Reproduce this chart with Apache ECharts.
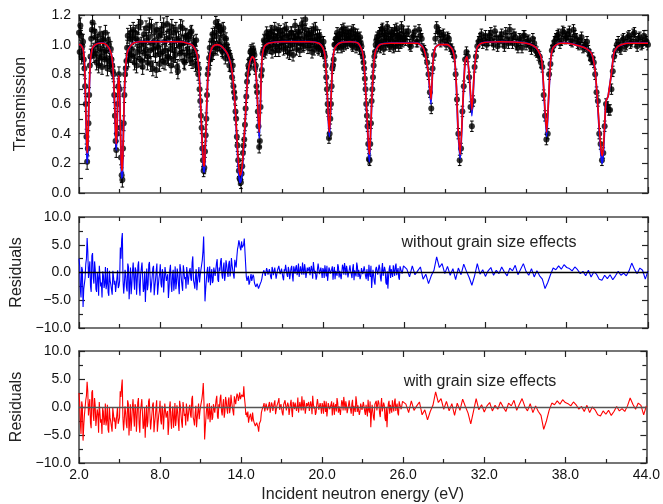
<!DOCTYPE html>
<html><head><meta charset="utf-8">
<script src="https://cdn.jsdelivr.net/npm/echarts/dist/echarts.min.js"></script>
<style>html,body{margin:0;padding:0;background:#fff}#c{width:663px;height:504px}</style>
</head><body><div id="c"></div>
<script>
// ---- Data ----
const xTicks = [2, 44, 6];          // min, max, interval of the energy axis
const energy = [
2.0,2.1,2.2,2.3,2.4,2.5,2.6,2.7,2.8,2.9,
3.0,3.1,3.2,3.3,3.4,3.5,3.6,3.7,3.8,3.9,
4.0,4.1,4.2,4.3,4.4,4.5,4.6,4.7,4.8,4.9,
5.0,5.1,5.2,5.3,5.4,5.5,5.6,5.7,5.8,5.9,
6.0,6.1,6.2,6.3,6.4,6.5,6.6,6.7,6.8,6.9,
7.0,7.1,7.2,7.3,7.4,7.5,7.6,7.7,7.8,7.9,
8.0,8.1,8.2,8.3,8.4,8.5,8.6,8.7,8.8,8.9,
9.0,9.1,9.2,9.3,9.4,9.5,9.6,9.7,9.8,9.9,
10.0,10.1,10.2,10.3,10.4,10.5,10.6,10.7,10.8,10.9,
11.0,11.1,11.2,11.3,11.4,11.5,11.6,11.7,11.8,11.9,
12.0,12.1,12.2,12.3,12.4,12.5,12.6,12.7,12.8,12.9,
13.0,13.1,13.2,13.3,13.4,13.5,13.6,13.7,13.8,13.9,
14.0,14.1,14.2,14.3,14.4,14.5,14.6,14.7,14.8,14.9,
15.0,15.1,15.2,15.3,15.4,15.5,15.6,15.7,15.8,15.9,
16.0,16.1,16.2,16.3,16.4,16.5,16.6,16.7,16.8,16.9,
17.0,17.1,17.2,17.3,17.4,17.5,17.6,17.7,17.8,17.9,
18.0,18.1,18.2,18.3,18.4,18.5,18.6,18.7,18.8,18.9,
19.0,19.1,19.2,19.3,19.4,19.5,19.6,19.7,19.8,19.9,
20.0,20.1,20.2,20.3,20.4,20.5,20.6,20.7,20.8,20.9,
21.0,21.1,21.2,21.3,21.4,21.5,21.6,21.7,21.8,21.9,
22.0,22.1,22.2,22.3,22.4,22.5,22.6,22.7,22.8,22.9,
23.0,23.1,23.2,23.3,23.4,23.5,23.6,23.7,23.8,23.9,
24.0,24.1,24.2,24.3,24.4,24.5,24.6,24.7,24.8,24.9,
25.0,25.1,25.2,25.3,25.4,25.5,25.6,25.7,25.8,25.9,
26.0,
26.2,26.4,26.6,26.8,27.0,27.2,27.4,27.6,27.8,
28.0,28.2,28.4,28.6,28.8,29.0,29.2,29.4,29.6,29.8,
30.0,30.2,30.4,30.6,30.8,31.0,31.2,31.4,31.6,31.8,
32.0,32.2,32.4,32.6,32.8,33.0,33.2,33.4,33.6,33.8,
34.0,34.2,34.4,34.6,34.8,35.0,35.2,35.4,35.6,35.8,
36.0,36.2,36.4,36.6,36.8,37.0,37.2,37.4,37.6,37.8,
38.0,38.2,38.4,38.6,38.8,39.0,39.2,39.4,39.6,39.8,
40.0,40.2,40.4,40.6,40.8,41.0,41.2,41.4,41.6,41.8,
42.0,42.2,42.4,42.6,42.8,43.0,43.2,43.4,43.6,43.8,
44.0
];
const transmission = [
1.08,1.13,0.92,1.02,0.84,0.60,0.21,0.47,0.86,1.04,
1.15,0.93,1.05,0.88,1.02,0.91,0.97,0.85,1.03,0.90,
0.96,0.84,1.00,0.87,0.90,0.82,0.66,0.35,0.40,0.72,
0.70,0.24,0.09,0.47,0.80,0.89,1.06,0.94,1.08,0.97,
1.10,0.88,1.04,0.95,1.12,0.90,1.00,0.85,1.07,0.96,
1.03,0.92,1.13,0.87,1.01,0.97,1.09,0.83,0.99,1.06,
0.94,1.10,0.89,1.02,0.96,1.14,0.91,1.05,0.86,1.00,
1.08,0.93,1.03,0.82,0.99,1.12,0.95,1.01,0.88,1.06,
0.97,1.04,0.90,1.09,0.93,1.00,0.86,0.92,0.80,0.70,
0.52,0.30,0.15,0.28,0.50,0.80,0.91,0.90,1.03,0.94,
1.08,1.15,0.97,1.12,1.02,1.10,0.95,1.05,0.91,1.00,
0.96,0.86,0.90,0.78,0.72,0.64,0.50,0.32,0.15,0.09,
0.13,0.27,0.36,0.57,0.75,0.86,0.90,0.96,0.93,0.95,
0.84,0.72,0.55,0.31,0.58,0.83,0.96,1.02,0.97,1.06,
1.05,0.98,1.09,1.00,1.06,0.96,1.03,1.10,0.99,1.04,
1.07,0.97,1.02,1.11,0.95,1.05,1.00,1.08,0.93,1.03,
1.06,1.01,1.09,0.96,1.04,1.12,1.00,1.17,1.05,0.98,
1.07,1.02,0.95,1.10,1.03,0.99,1.06,0.97,1.04,0.96,
0.97,0.94,0.86,0.70,0.55,0.40,0.60,0.84,0.90,1.00,
1.04,0.98,1.07,1.02,1.10,0.99,1.05,1.08,1.01,1.06,
1.03,1.09,0.99,1.05,1.07,1.00,1.04,0.97,1.01,0.94,
0.88,0.77,0.60,0.45,0.23,0.33,0.62,0.78,0.92,1.00,
1.05,0.99,1.08,1.02,1.11,0.97,1.06,1.03,1.09,1.00,
1.04,1.07,0.98,1.10,1.03,1.06,0.99,1.05,1.12,1.02,
1.04,
1.07,1.00,1.05,1.09,1.02,1.06,0.97,0.93,0.80,
0.57,0.93,1.12,1.08,1.06,1.03,1.05,0.99,0.95,0.80,
0.40,0.30,0.72,0.95,0.78,0.45,0.85,0.99,1.04,1.01,
1.06,1.03,1.08,1.00,1.05,1.02,1.07,0.99,1.04,1.10,
1.01,1.05,0.98,1.03,1.06,1.00,1.03,0.97,1.01,0.95,
0.92,0.85,0.52,0.40,0.87,0.99,1.04,1.07,1.03,1.08,
1.05,1.09,1.02,1.06,1.01,1.03,0.98,1.00,0.96,0.90,
0.88,0.68,0.40,0.22,0.45,0.58,0.56,0.82,0.96,1.02,
0.97,1.04,1.00,1.06,1.02,1.08,0.99,1.05,1.01,1.03,
1.00
];
// interleaved measurements between the grid points above (2.05 ... 25.95)
const energyMid = [
2.05,2.15,2.25,2.35,2.45,2.55,2.65,2.75,2.85,2.95,
3.05,3.15,3.25,3.35,3.45,3.55,3.65,3.75,3.85,3.95,
4.05,4.15,4.25,4.35,4.45,4.55,4.65,4.75,4.85,4.95,
5.05,5.15,5.25,5.35,5.45,5.55,5.65,5.75,5.85,5.95,
6.05,6.15,6.25,6.35,6.45,6.55,6.65,6.75,6.85,6.95,
7.05,7.15,7.25,7.35,7.45,7.55,7.65,7.75,7.85,7.95,
8.05,8.15,8.25,8.35,8.45,8.55,8.65,8.75,8.85,8.95,
9.05,9.15,9.25,9.35,9.45,9.55,9.65,9.75,9.85,9.95,
10.05,10.15,10.25,10.35,10.45,10.55,10.65,10.75,10.85,10.95,
11.05,11.15,11.25,11.35,11.45,11.55,11.65,11.75,11.85,11.95,
12.05,12.15,12.25,12.35,12.45,12.55,12.65,12.75,12.85,12.95,
13.05,13.15,13.25,13.35,13.45,13.55,13.65,13.75,13.85,13.95,
14.05,14.15,14.25,14.35,14.45,14.55,14.65,14.75,14.85,14.95,
15.05,15.15,15.25,15.35,15.45,15.55,15.65,15.75,15.85,15.95,
16.05,16.15,16.25,16.35,16.45,16.55,16.65,16.75,16.85,16.95,
17.05,17.15,17.25,17.35,17.45,17.55,17.65,17.75,17.85,17.95,
18.05,18.15,18.25,18.35,18.45,18.55,18.65,18.75,18.85,18.95,
19.05,19.15,19.25,19.35,19.45,19.55,19.65,19.75,19.85,19.95,
20.05,20.15,20.25,20.35,20.45,20.55,20.65,20.75,20.85,20.95,
21.05,21.15,21.25,21.35,21.45,21.55,21.65,21.75,21.85,21.95,
22.05,22.15,22.25,22.35,22.45,22.55,22.65,22.75,22.85,22.95,
23.05,23.15,23.25,23.35,23.45,23.55,23.65,23.75,23.85,23.95,
24.05,24.15,24.25,24.35,24.45,24.55,24.65,24.75,24.85,24.95,
25.05,25.15,25.25,25.35,25.45,25.55,25.65,25.75,25.85,25.95
];
const transmissionMid = [
0.95,1.06,0.99,0.90,0.72,0.38,0.30,0.66,0.92,1.10,
0.96,1.09,0.94,1.00,0.86,1.07,0.92,1.04,0.95,1.08,
0.91,1.03,0.89,0.97,0.86,0.80,0.52,0.29,0.60,0.80,
0.44,0.12,0.30,0.66,0.84,0.98,0.90,1.04,0.93,1.05,
0.92,1.08,0.86,1.03,0.97,1.15,0.89,1.01,0.94,1.11,
0.88,1.05,0.96,1.12,0.84,1.02,0.93,1.10,0.98,0.87,
1.07,0.95,1.13,0.88,1.04,0.92,1.09,0.97,1.12,0.90,
0.96,1.10,0.85,1.04,0.94,1.01,1.11,0.89,1.05,0.93,
1.06,0.95,1.08,0.88,1.02,0.96,1.03,0.87,0.84,0.62,
0.44,0.22,0.17,0.39,0.66,0.84,0.98,0.93,1.07,1.01,
0.98,1.06,1.13,1.00,1.09,0.96,1.11,0.99,1.04,0.93,
0.94,0.92,0.83,0.86,0.68,0.55,0.38,0.22,0.10,0.07,
0.18,0.32,0.46,0.65,0.80,0.84,0.95,0.89,0.97,0.93,
0.86,0.68,0.45,0.35,0.79,0.94,1.03,0.95,1.08,0.99,
1.02,1.08,0.95,1.04,1.11,0.99,1.06,0.96,1.09,1.01,
1.04,1.10,0.98,1.06,1.02,0.94,1.08,1.00,1.05,1.13,
0.97,1.04,1.08,1.01,1.14,0.99,1.06,1.10,1.02,1.07,
1.00,1.08,1.04,0.97,1.11,1.03,0.98,1.06,1.01,0.99,
1.02,0.92,0.78,0.60,0.37,0.50,0.72,0.86,1.00,1.04,
1.08,1.01,1.05,0.98,1.07,1.11,1.00,1.04,1.09,1.02,
1.06,1.00,1.10,1.03,0.98,1.07,1.02,1.05,0.99,0.92,
0.84,0.70,0.52,0.33,0.22,0.47,0.70,0.86,0.95,1.03,
1.01,1.06,0.98,1.10,1.03,1.07,1.00,1.12,1.04,0.99,
1.08,1.02,1.06,0.99,1.11,1.04,1.07,1.01,1.05,1.09
];
// interleaved measurements at high energy (26.1 ... 43.9)
const energyHigh = [
26.1,26.3,26.5,26.7,26.9,27.1,27.3,27.5,27.7,27.9,
28.1,28.3,28.5,28.7,28.9,29.1,29.3,29.5,29.7,29.9,
30.1,30.3,30.5,30.7,30.9,31.1,31.3,31.5,31.7,31.9,
32.1,32.3,32.5,32.7,32.9,33.1,33.3,33.5,33.7,33.9,
34.1,34.3,34.5,34.7,34.9,35.1,35.3,35.5,35.7,35.9,
36.1,36.3,36.5,36.7,36.9,37.1,37.3,37.5,37.7,37.9,
38.1,38.3,38.5,38.7,38.9,39.1,39.3,39.5,39.7,39.9,
40.1,40.3,40.5,40.7,40.9,41.1,41.3,41.5,41.7,41.9,
42.1,42.3,42.5,42.7,42.9,43.1,43.3,43.5,43.7,43.9
];
const transmissionHigh = [
1.03,1.09,0.99,1.06,1.02,1.10,1.04,0.96,0.88,0.68,
0.84,1.04,1.09,1.02,1.07,1.00,1.04,0.97,0.92,0.63,
0.22,0.55,0.90,0.92,0.58,0.62,0.92,1.02,1.07,1.03,
1.00,1.06,1.03,1.09,0.99,1.05,1.02,1.08,1.01,1.04,
1.07,1.00,1.04,0.98,1.06,1.02,0.99,1.04,0.96,0.93,
0.88,0.66,0.36,0.80,0.96,1.02,1.06,1.01,1.09,1.04,
1.07,1.03,1.10,1.04,1.00,1.05,0.99,1.02,0.93,0.91,
0.80,0.62,0.33,0.27,0.60,0.56,0.70,0.92,1.00,0.98,
1.03,0.99,1.05,1.01,1.07,1.02,1.04,1.00,1.06,1.02
];
// error bar half-lengths by energy band [from, to, error]
const errorBands = [[2, 10, 0.05], [10, 20, 0.04], [20, 44.1, 0.035]];

// fitted curves: with grain size effects (red) and without (blue)
const fitEnergy = [2.0,2.1,2.2,2.3,2.35,2.4,2.45,2.5,2.55,2.6,2.65,2.7,2.75,2.8,2.85,2.9,3.0,3.2,3.5,3.8,
 4.0,4.2,4.3,4.4,4.5,4.55,4.6,4.65,4.7,4.75,4.8,4.85,4.9,4.95,5.0,5.05,5.1,5.15,5.2,5.25,5.3,5.35,5.4,5.5,5.6,5.8,
 6.0,6.5,7.5,8.5,9.5,10.0,10.3,10.5,10.7,10.8,10.9,11.0,11.1,11.2,11.25,11.3,11.4,11.5,11.6,11.7,11.9,
 12.2,12.5,12.8,13.0,13.2,13.35,13.5,13.6,13.7,13.8,13.88,13.95,14.05,14.15,14.25,14.35,14.45,14.6,14.8,14.95,
 15.1,15.2,15.3,15.38,15.45,15.55,15.7,16.0,17.0,18.0,19.0,19.7,20.0,20.15,20.28,20.4,20.48,20.55,20.65,20.75,20.9,
 21.2,22.0,22.6,22.9,23.05,23.2,23.35,23.43,23.5,23.6,23.75,23.9,24.2,25.0,26.0,27.0,27.4,27.6,27.8,27.98,28.13,28.3,
 28.6,29.2,29.55,29.73,29.86,29.97,30.14,30.32,30.5,30.64,30.81,31.0,31.18,31.38,31.7,33.0,35.0,35.6,35.9,36.15,36.32,
 36.52,36.64,36.82,37.0,37.5,38.0,39.0,39.5,39.84,40.09,40.26,40.41,40.55,40.63,40.72,40.82,40.9,41.05,41.2,41.32,
 41.5,41.8,42.5,44.0];
const fitRed = [1.00,1.00,0.99,0.97,0.94,0.89,0.76,0.58,0.40,0.27,0.33,0.50,0.68,0.82,0.90,0.94,0.98,1.00,1.01,1.01,
 1.00,0.98,0.96,0.93,0.86,0.78,0.68,0.55,0.41,0.33,0.42,0.62,0.76,0.79,0.68,0.48,0.28,0.15,0.17,0.30,0.50,0.67,0.79,0.91,0.96,0.99,
 1.01,1.02,1.02,1.02,1.02,1.01,1.00,0.98,0.94,0.88,0.75,0.55,0.33,0.19,0.18,0.26,0.52,0.76,0.89,0.95,0.99,
 1.00,0.99,0.96,0.93,0.87,0.78,0.62,0.47,0.30,0.17,0.12,0.13,0.19,0.32,0.46,0.63,0.78,0.88,0.92,0.90,
 0.76,0.57,0.41,0.55,0.80,0.94,0.99,1.01,1.02,1.02,1.02,1.01,0.98,0.93,0.76,0.52,0.41,0.52,0.74,0.91,0.98,
 1.01,1.02,1.01,0.96,0.86,0.62,0.36,0.26,0.35,0.60,0.86,0.96,1.00,1.01,1.01,1.01,0.98,0.92,0.80,0.63,0.88,0.98,
 1.00,1.00,0.97,0.90,0.72,0.46,0.26,0.58,0.89,0.92,0.79,0.56,0.82,0.98,1.01,1.02,1.01,0.99,0.96,0.90,0.68,
 0.41,0.60,0.90,0.98,1.01,1.01,0.99,0.97,0.94,0.83,0.64,0.43,0.28,0.25,0.32,0.50,0.62,0.65,0.74,0.82,
 0.95,0.99,1.01,1.01];
const fitBlue = [1.00,1.00,0.99,0.97,0.94,0.89,0.75,0.56,0.36,0.20,0.28,0.48,0.67,0.82,0.90,0.94,0.98,1.00,1.01,1.01,
 1.00,0.98,0.96,0.93,0.86,0.78,0.67,0.54,0.38,0.29,0.40,0.61,0.76,0.79,0.68,0.47,0.25,0.10,0.12,0.28,0.49,0.67,0.79,0.91,0.96,0.99,
 1.01,1.02,1.02,1.02,1.02,1.01,1.00,0.98,0.94,0.88,0.75,0.54,0.31,0.15,0.14,0.24,0.51,0.76,0.89,0.95,0.99,
 1.00,0.99,0.96,0.93,0.87,0.78,0.61,0.45,0.27,0.12,0.07,0.08,0.15,0.30,0.45,0.63,0.78,0.88,0.92,0.90,
 0.76,0.56,0.37,0.54,0.80,0.94,0.99,1.01,1.02,1.02,1.02,1.01,0.98,0.93,0.76,0.50,0.38,0.51,0.74,0.91,0.98,
 1.01,1.02,1.01,0.96,0.86,0.61,0.33,0.21,0.33,0.59,0.86,0.96,1.00,1.01,1.01,1.01,0.98,0.92,0.79,0.60,0.88,0.98,
 1.00,1.00,0.97,0.90,0.71,0.44,0.23,0.57,0.89,0.92,0.79,0.52,0.82,0.98,1.01,1.02,1.01,0.99,0.96,0.90,0.67,
 0.38,0.59,0.90,0.98,1.01,1.01,0.99,0.97,0.94,0.83,0.63,0.41,0.24,0.20,0.29,0.49,0.62,0.65,0.74,0.82,
 0.95,0.99,1.01,1.01];

// residuals on the main energy grid
const residualsWithout = [
2.5,-3.0,1.0,-6.2,-2.0,1.5,6.2,-1.0,2.0,-3.5,
3.5,-2.0,0.5,-3.5,-1.0,1.2,-2.5,-4.5,-0.5,-2.0,
-3.0,0.8,-4.2,-1.5,-2.5,0.3,-2.2,-3.5,-1.0,-2.8,
-1.5,2.5,7.1,-3.8,0.5,-2.6,1.6,-4.8,0.9,-2.2,
1.8,-3.1,0.4,-1.5,2.0,-4.2,-0.6,1.5,-2.8,-5.3,
0.7,-2.2,1.9,-3.6,-0.8,1.2,-2.5,0.3,-4.0,-1.1,
1.5,-2.7,-0.2,-3.8,0.9,-1.6,-4.6,0.4,-2.1,-0.5,
-3.3,1.1,-1.8,-0.4,-3.9,0.6,-2.3,1.3,-1.2,-2.9,
-0.3,-2.4,0.8,-1.5,2.9,-2.0,-0.7,-3.2,-0.4,-1.8,
0.5,2.2,6.5,-5.2,-1.4,1.0,-0.8,-2.3,0.6,-1.5,
1.2,-0.9,2.4,-1.7,0.3,2.6,-1.1,1.8,-0.5,1.4,
-0.8,2.1,0.2,1.3,-0.4,2.3,0.9,4.2,5.8,4.4,
5.6,4.8,6.1,1.5,-1.5,-0.6,-1.8,-0.3,-1.2,-0.8,
-2.2,-2.7,-1.9,-3.1,-2.4,-1.1,-0.5,0.6,-0.9,0.3,
-0.4,0.8,-1.2,0.5,-0.2,1.1,-0.9,0.3,1.5,-0.6,
0.7,-1.4,0.2,1.3,-0.8,0.4,-0.3,1.2,-1.6,0.5,
0.9,-0.5,1.6,-0.9,0.3,1.8,-0.4,0.7,-1.1,0.2,
1.0,-0.7,0.4,1.9,-0.2,-1.3,0.6,1.4,-0.6,0.1,
0.8,-1.0,0.3,1.2,-1.8,0.5,-0.4,1.1,0.2,-1.2,
0.6,1.5,-0.9,0.2,-1.5,0.9,1.7,-0.5,0.4,-1.1,
1.3,-0.3,0.7,-1.4,0.5,1.8,-0.8,0.2,-0.6,1.0,
-0.4,0.9,-1.2,0.3,1.4,-0.8,-2.8,0.5,-1.7,0.6,
1.2,-0.5,0.8,-1.6,1.7,-0.3,0.4,-2.2,-2.9,0.7,
-1.0,0.5,1.3,-0.6,1.6,0.2,-0.9,1.1,0.4,-0.2,
0.9,
0.6,-0.8,1.2,-0.4,0.3,1.0,-1.2,-0.3,-2.0,
-0.6,0.4,2.8,0.9,1.6,-0.2,1.1,-0.5,0.7,-1.3,
0.8,-0.4,1.5,0.2,-0.9,-2.3,-0.6,1.6,-0.3,0.5,
-0.7,0.3,0.9,-0.5,0.4,-0.2,1.0,0.1,-0.6,0.8,
0.3,1.3,-0.4,0.6,1.6,0.2,-0.5,0.7,-0.8,0.3,
-0.6,-1.2,-2.9,-1.8,-0.4,0.8,0.5,1.2,0.6,1.4,
0.9,0.7,0.3,1.0,0.5,-0.2,0.2,-0.6,0.4,-0.8,
0.1,-0.3,-1.2,-1.4,-0.5,-1.1,-0.4,-1.3,-0.6,0.2,
-0.5,-0.1,-0.6,0.3,1.7,0.6,-0.2,0.8,0.4,-1.2,
0.3
];
const residualsWith = [
2.5,-2.8,1.0,-6.0,-1.5,1.2,4.5,-1.5,1.4,-3.8,
3.0,-2.5,0.2,-3.6,-1.3,0.9,-2.8,-4.8,-0.8,-2.4,
-3.3,0.4,-4.6,-1.9,-2.8,-0.2,-2.6,-3.9,-1.4,-3.0,
-1.9,1.8,4.9,-4.2,0.1,-3.0,1.2,-5.1,0.5,-2.6,
1.4,-3.5,0.0,-1.9,1.6,-4.6,-1.0,1.1,-3.2,-5.5,
0.3,-2.6,1.5,-4.0,-1.2,0.8,-2.9,-0.1,-4.4,-1.5,
1.1,-3.1,-0.6,-4.2,0.5,-2.0,-5.0,0.0,-2.5,-0.9,
-3.7,0.7,-2.2,-0.8,-4.3,0.2,-2.7,0.9,-1.6,-3.3,
-0.7,-2.8,0.4,-1.9,2.0,-2.4,-1.1,-3.6,-0.8,-2.2,
0.1,1.5,4.3,-5.8,-1.8,0.6,-1.2,-2.7,0.2,-1.9,
0.8,-1.3,2.0,-2.1,-0.1,2.2,-1.5,1.4,-0.9,1.0,
-1.2,1.7,-0.2,0.9,-0.8,1.9,0.5,2.4,1.1,2.6,
1.3,2.0,3.7,0.4,-1.0,-0.8,-2.0,-1.2,-2.6,-2.1,
-3.0,-3.4,-2.6,-4.4,-3.1,-1.0,-0.6,0.7,-0.8,0.4,
-0.6,0.9,-1.1,0.4,-0.4,1.2,-1.0,0.2,1.6,-0.7,
0.6,-1.5,0.1,1.4,-0.9,0.3,-0.5,1.3,-1.8,0.4,
0.8,-0.7,1.7,-1.0,0.2,1.9,-0.6,0.6,-1.3,0.1,
0.9,-0.9,0.3,2.0,-0.3,-1.4,0.5,1.5,-0.8,0.0,
0.7,-1.2,0.2,1.0,-2.0,0.4,-0.6,1.0,0.1,-1.4,
0.5,1.6,-1.0,0.1,-1.7,0.8,1.8,-0.6,0.3,-1.3,
1.2,-0.4,0.6,-1.6,0.4,1.9,-0.9,0.1,-0.8,0.9,
-0.6,0.8,-1.4,0.2,1.3,-1.0,-3.6,0.4,-1.9,0.5,
1.1,-0.7,0.7,-1.8,1.6,-0.5,0.3,-2.5,-3.6,0.6,
-1.2,0.4,1.2,-0.8,1.5,0.1,-1.1,1.0,0.3,-0.4,
0.8,
0.5,-1.0,1.1,-0.6,0.2,0.9,-1.4,-0.5,-2.3,
-0.8,0.3,2.7,0.8,1.5,-0.4,1.0,-0.7,0.6,-1.5,
0.7,-0.6,1.4,0.1,-1.1,-3.0,-0.8,1.5,-0.5,0.4,
-0.9,0.2,0.8,-0.7,0.3,-0.4,0.9,0.0,-0.8,0.7,
0.2,1.2,-0.6,0.5,1.5,0.1,-0.7,0.6,-1.0,0.2,
-0.8,-1.5,-4.0,-2.5,-0.6,0.7,0.4,1.1,0.5,1.3,
0.8,0.6,0.2,0.9,0.4,-0.4,0.1,-0.8,0.3,-1.0,
0.0,-0.5,-1.4,-1.6,-0.7,-1.3,-0.6,-1.5,-0.8,0.1,
-0.7,-0.3,-0.8,0.2,1.6,0.5,-0.4,0.7,0.3,-1.4,
0.2
];
// residuals on the interleaved grid (energyMid)
const residualsWithoutMid = [
1.2,-4.5,0.5,-3.0,-1.0,2.5,3.8,0.5,-2.5,3.0,
-1.0,2.0,-3.0,0.0,-4.2,1.5,-1.8,0.2,-2.8,1.0,
-2.0,-3.6,0.3,-2.2,-4.0,-0.8,-1.5,-3.2,0.4,-2.4,
4.5,6.0,-1.5,-2.0,-0.5,-3.4,1.0,-2.0,-3.9,0.3,
-1.2,0.9,-4.0,1.2,-2.6,-0.4,1.8,-3.5,0.2,-1.9,
-3.2,1.4,-0.9,-2.2,0.8,-4.1,-1.3,1.6,-2.5,-0.2,
-2.0,0.6,-3.6,1.0,-1.5,-0.3,-2.8,1.4,-3.5,0.5,
-1.7,-3.0,0.7,-2.4,1.5,-1.0,-3.3,0.2,-0.8,1.0,
-2.2,0.3,-1.0,1.8,-1.4,-2.9,0.6,-1.6,1.0,-0.5,
0.8,3.8,1.5,-3.0,0.2,-1.8,1.1,-0.6,-1.9,0.9,
-0.6,1.7,-1.3,0.9,2.0,-0.4,0.8,-1.5,2.2,0.1,
1.5,-0.7,2.6,0.4,-1.1,1.6,2.8,4.8,5.2,4.0,
4.5,5.0,3.8,-0.8,-1.2,-2.2,-0.9,-1.5,-0.4,-1.9,
-2.6,-2.0,-2.9,-2.2,-1.6,-0.3,0.4,-0.6,0.8,-0.4,
0.6,-0.8,1.0,-0.5,0.9,-1.1,0.4,1.2,-0.3,0.7,
-0.9,0.6,1.4,-0.4,1.0,-1.2,0.8,-0.5,1.1,-0.2,
1.3,0.2,-0.8,1.1,-0.4,0.5,1.5,-1.0,0.9,0.4,
-0.5,1.2,-1.1,0.7,0.3,-0.8,1.6,-0.3,0.9,-1.0,
0.4,1.3,-0.7,-1.5,0.9,-0.2,0.6,-1.3,1.0,0.3,
-0.6,1.0,0.3,-1.2,1.4,-0.4,0.8,1.2,-0.9,0.5,
0.2,-1.0,1.5,0.4,-0.7,1.1,0.5,-1.2,0.8,-0.3,
1.1,-0.6,0.6,-1.5,-0.3,1.2,-1.0,0.3,-2.2,1.0,
-0.4,1.4,-0.9,0.5,-0.6,1.0,-1.8,0.2,-0.7,1.3,
0.6,-0.8,0.3,1.1,-0.5,0.8,-1.3,0.6,-0.2,1.2
];
const residualsWithMid = [
0.8,-4.8,0.2,-3.4,-1.4,2.0,2.8,0.2,-2.9,2.6,
-1.4,1.6,-3.4,-0.4,-4.6,1.1,-2.2,-0.2,-3.2,0.6,
-2.4,-4.0,-0.1,-2.6,-4.4,-1.2,-1.9,-3.6,0.0,-2.8,
2.8,3.5,-1.9,-2.4,-0.9,-3.8,0.6,-2.4,-4.3,-0.1,
-1.6,0.5,-4.4,0.8,-3.0,-0.8,1.4,-3.9,-0.2,-2.3,
-3.6,1.0,-1.3,-2.6,0.4,-4.5,-1.7,1.2,-2.9,-0.6,
-2.4,0.2,-4.0,0.6,-1.9,-0.7,-3.2,1.0,-3.9,0.1,
-2.1,-3.4,0.3,-2.8,1.1,-1.4,-3.7,-0.2,-1.2,0.6,
-2.6,-0.1,-1.4,1.4,-1.8,-3.3,0.2,-2.0,0.6,-0.9,
0.4,2.6,0.8,-3.6,-0.2,-2.2,0.7,-1.0,-2.3,0.5,
-1.0,1.3,-1.7,0.5,1.6,-0.8,0.4,-1.9,1.8,-0.3,
1.1,-1.1,2.2,0.0,-1.5,1.2,1.6,2.0,1.8,1.4,
2.2,1.8,1.6,-1.4,-1.8,-2.8,-1.6,-2.2,-1.0,-2.7,
-3.4,-2.8,-3.6,-3.0,-2.4,-0.5,0.2,-0.8,0.6,-0.6,
0.4,-1.0,0.8,-0.7,0.7,-1.3,0.2,1.0,-0.5,0.5,
-1.1,0.4,1.2,-0.6,0.8,-1.4,0.6,-0.7,0.9,-0.4,
1.1,0.0,-1.0,0.9,-0.6,0.3,1.3,-1.2,0.7,0.2,
-0.7,1.0,-1.3,0.5,0.1,-1.0,1.4,-0.5,0.7,-1.2,
0.2,1.1,-0.9,-1.7,0.7,-0.4,0.4,-1.5,0.8,0.1,
-0.8,0.8,0.1,-1.4,1.2,-0.6,0.6,1.0,-1.1,0.3,
0.0,-1.2,1.3,0.2,-0.9,0.9,0.3,-1.4,0.6,-0.5,
0.9,-0.8,0.4,-1.7,-0.5,1.0,-1.2,0.1,-2.4,0.8,
-0.6,1.2,-1.1,0.3,-0.8,0.8,-2.0,0.0,-0.9,1.1,
0.4,-1.0,0.1,0.9,-0.7,0.6,-1.5,0.4,-0.4,1.0
];
const transTicks = [0, 1.2, 0.2];
const residTicks = [-10, 10, 5];
const labels = {
  yTop: 'Transmission', yRes: 'Residuals', x: 'Incident neutron energy (eV)',
  noteWithout: 'without grain size effects', noteWith: 'with grain size effects'
};

// ---- Chart ----
const FONT = '"Liberation Sans", Arial, Helvetica, sans-serif';
const FRAME = '#4a4a4a';
const grids = [
  {left: 79, right: 15, top: 15, height: 178},
  {left: 79, right: 15, top: 217, height: 111},
  {left: 79, right: 15, top: 351, height: 112}
];
function xAx(gi, pos, showLabel) {
  return {
    type: 'value', gridIndex: gi, position: pos,
    min: xTicks[0], max: xTicks[1], interval: xTicks[2],
    name: showLabel ? labels.x : '', nameLocation: 'middle', nameGap: 24,
    nameTextStyle: {fontFamily: FONT, fontSize: 16, color: '#222'},
    axisLine: {show: true, onZero: false, lineStyle: {color: FRAME, width: 1.6}},
    axisTick: {show: true, inside: true, length: 6, lineStyle: {color: '#222', width: 1.2}},
    minorTick: {show: true, splitNumber: 2, length: 4, lineStyle: {color: '#222', width: 1.2}},
    splitLine: {show: false},
    axisLabel: {show: showLabel, margin: 5, color: '#111', fontSize: 14, fontFamily: FONT,
      formatter: v => v.toFixed(1)}
  };
}
function fmtSigned(v) { return v < 0 ? '\u2212' + Math.abs(v).toFixed(1) : v.toFixed(1); }
function yAx(gi, pos, t, showLabel, name) {
  return {
    type: 'value', gridIndex: gi, position: pos,
    min: t[0], max: t[1], interval: t[2],
    name: showLabel ? name : '', nameLocation: 'middle', nameGap: 50, nameRotate: 90,
    nameTextStyle: {fontFamily: FONT, fontSize: 16, color: '#222'},
    axisLine: {show: true, onZero: false, lineStyle: {color: FRAME, width: 1.6}},
    axisTick: {show: true, inside: true, length: 6, lineStyle: {color: '#222', width: 1.2}},
    minorTick: {show: true, splitNumber: 2, length: 4, lineStyle: {color: '#222', width: 1.2}},
    splitLine: {show: false},
    axisLabel: {show: showLabel, margin: 8, color: '#111', fontSize: 14, fontFamily: FONT,
      formatter: fmtSigned}
  };
}
function errFor(e) {
  for (const b of errorBands) if (e >= b[0] && e < b[1]) return b[2];
  return errorBands[errorBands.length - 1][2];
}
const points = energy.map((e, i) => [e, transmission[i]])
  .concat(energyMid.map((e, i) => [e, transmissionMid[i]]))
  .concat(energyHigh.map((e, i) => [e, transmissionHigh[i]]));
const errData = points.map(p => [p[0], p[1] - errFor(p[0]), p[1] + errFor(p[0])]);
const byE = (a, b) => a[0] - b[0];
const resWithoutPts = energy.map((e, i) => [e, residualsWithout[i]])
  .concat(energyMid.map((e, i) => [e, residualsWithoutMid[i]])).sort(byE);
const resWithPts = energy.map((e, i) => [e, residualsWith[i]])
  .concat(energyMid.map((e, i) => [e, residualsWithMid[i]])).sort(byE);

function renderErr(params, api) {
  const x = api.value(0);
  const lo = api.coord([x, api.value(1)]);
  const hi = api.coord([x, api.value(2)]);
  const st = {stroke: '#000', lineWidth: 1};
  return {type: 'group', children: [
    {type: 'line', shape: {x1: lo[0], y1: lo[1], x2: hi[0], y2: hi[1]}, style: st},
    {type: 'line', shape: {x1: lo[0] - 1.8, y1: lo[1], x2: lo[0] + 1.8, y2: lo[1]}, style: st},
    {type: 'line', shape: {x1: hi[0] - 1.8, y1: hi[1], x2: hi[0] + 1.8, y2: hi[1]}, style: st}
  ]};
}
function zeroLine(xi, color) {
  return {type: 'line', xAxisIndex: xi, yAxisIndex: xi, data: [], z: 6, silent: true,
    markLine: {silent: true, symbol: 'none', animation: false, label: {show: false},
      lineStyle: {color: color, width: 1.3, type: 'solid'}, data: [{yAxis: 0}]}};
}

const chart = echarts.init(document.getElementById('c'), null, {renderer: 'canvas'});
chart.setOption({
  animation: false,
  backgroundColor: '#fff',
  textStyle: {fontFamily: FONT},
  grid: grids,
  xAxis: [xAx(0, 'bottom', false), xAx(0, 'top', false), xAx(1, 'bottom', false), xAx(1, 'top', false),
          xAx(2, 'bottom', true), xAx(2, 'top', false)],
  yAxis: [yAx(0, 'left', transTicks, true, labels.yTop), yAx(0, 'right', transTicks, false, ''),
          yAx(1, 'left', residTicks, true, labels.yRes), yAx(1, 'right', residTicks, false, ''),
          yAx(2, 'left', residTicks, true, labels.yRes), yAx(2, 'right', residTicks, false, '')],
  graphic: [
    {type: 'text', x: 489, y: 243, z: 100, style: {text: labels.noteWithout, font: '16px ' + FONT,
      fill: '#222', textAlign: 'center', textVerticalAlign: 'middle'}},
    {type: 'text', x: 480, y: 382, z: 100, style: {text: labels.noteWith, font: '16px ' + FONT,
      fill: '#222', textAlign: 'center', textVerticalAlign: 'middle'}}
  ],
  series: [
    {type: 'custom', xAxisIndex: 0, yAxisIndex: 0, data: errData, renderItem: renderErr,
      encode: {x: 0, y: [1, 2]}, z: 2, silent: true, clip: true},
    {type: 'scatter', xAxisIndex: 0, yAxisIndex: 0, data: points, symbol: 'circle', symbolSize: 6,
      itemStyle: {color: '#000'}, z: 3, silent: true, clip: true},
    {type: 'line', xAxisIndex: 0, yAxisIndex: 0, data: fitEnergy.map((e, i) => [e, fitBlue[i]]),
      symbol: 'none', smooth: 0.2, lineStyle: {color: '#1010ff', width: 1.8}, z: 4, silent: true},
    {type: 'line', xAxisIndex: 0, yAxisIndex: 0, data: fitEnergy.map((e, i) => [e, fitRed[i]]),
      symbol: 'none', smooth: 0.2, lineStyle: {color: '#ff0000', width: 1.6}, z: 5, silent: true},
    {type: 'line', xAxisIndex: 2, yAxisIndex: 2, data: resWithoutPts,
      symbol: 'none', lineStyle: {color: '#0000ff', width: 1.1}, z: 3, silent: true},
    zeroLine(2, '#000'),
    {type: 'line', xAxisIndex: 4, yAxisIndex: 4, data: resWithPts,
      symbol: 'none', lineStyle: {color: '#ff0000', width: 1.1}, z: 3, silent: true},
    zeroLine(4, '#555')
  ]
});
</script>
</body></html>
